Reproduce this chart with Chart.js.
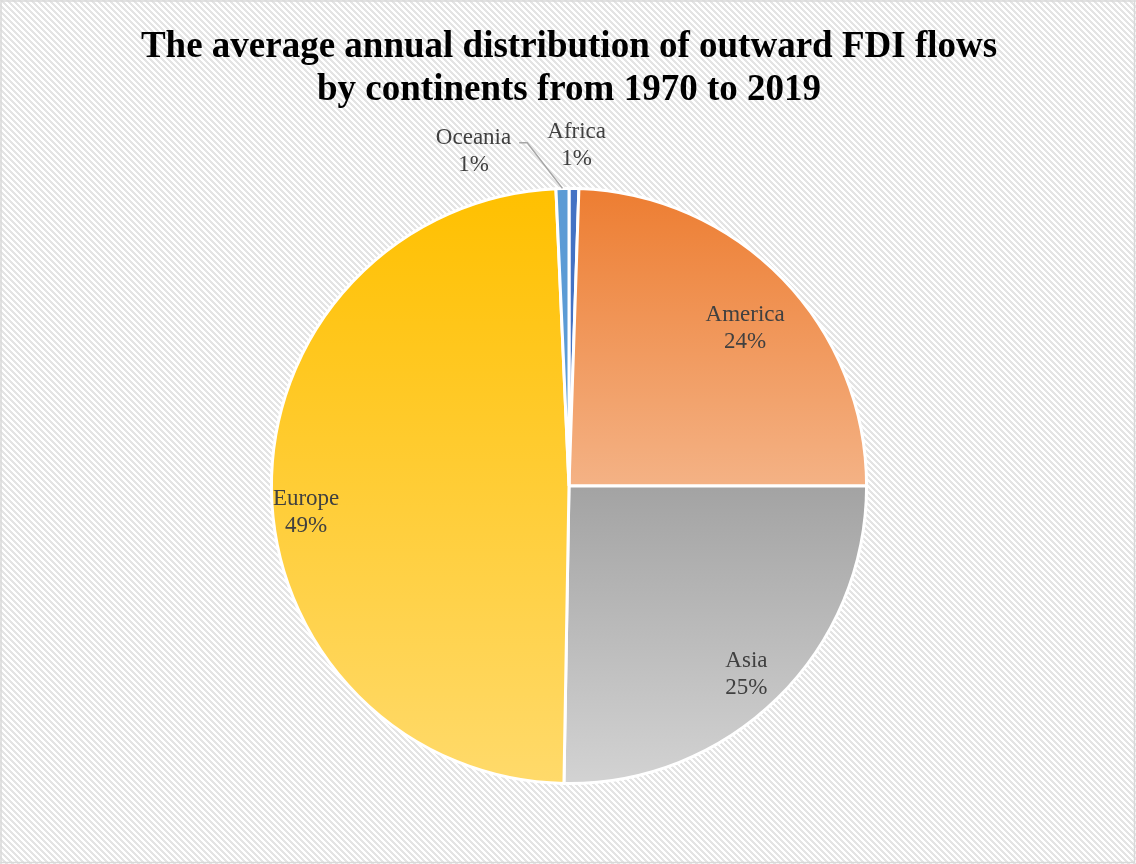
<!DOCTYPE html>
<html>
<head>
<meta charset="utf-8">
<script src="https://cdn.jsdelivr.net/npm/chart.js@4.4.0/dist/chart.umd.min.js"></script>
<style>
  html, body { margin: 0; padding: 0; background: #fff; }
  #wrap { width: 1136px; height: 864px; }
</style>
</head>
<body>
<div id="wrap"><canvas id="chart" width="1136" height="864"></canvas></div>
<script>
// Data
const continents = ['Africa', 'America', 'Asia', 'Europe', 'Oceania'];
const shares = [0.53, 24.47, 25.27, 49.03, 0.70];

// Colours (top / bottom of gradient)
const topColors = ['#4472C4', '#ED7D31', '#A3A3A3', '#FFC000', '#5B9BD5'];
const bottomColors = ['#4472C4', '#F4B285', '#D3D3D3', '#FFDA6B', '#5B9BD5'];

// Label placement tweaks (fraction of radius, pixel nudges)
const labelPlace = [
  { r: 1.14, dx: 2, dy: -1 },
  { r: 0.80, dx: 5, dy: 8 },
  { r: 0.86, dx: -2, dy: 6 },
  { r: 0.86, dx: -7, dy: 23 },
  { r: 1.14, dx: -88, dy: 5, leader: true }
];

// Slice gradient: computed from the pie geometry inside the chart area
function sliceFill(ctx) {
  const chart = ctx.chart;
  const area = chart.chartArea;
  const i = ctx.dataIndex;
  if (!area) return topColors[i];
  const cx = (area.left + area.right) / 2;
  const cy = (area.top + area.bottom) / 2;
  const R = Math.min(area.right - area.left, area.bottom - area.top) / 2;
  const total = shares.reduce((a, b) => a + b, 0);
  let cum = 0;
  for (let k = 0; k < i; k++) cum += shares[k];
  const a0 = -Math.PI / 2 + 2 * Math.PI * cum / total;
  const a1 = a0 + 2 * Math.PI * shares[i] / total;
  let minY = cy, maxY = cy;
  for (let s = 0; s <= 60; s++) {
    const a = a0 + (a1 - a0) * s / 60;
    const y = cy + R * Math.sin(a);
    minY = Math.min(minY, y);
    maxY = Math.max(maxY, y);
  }
  const g = chart.ctx.createLinearGradient(0, minY, 0, maxY);
  g.addColorStop(0, topColors[i]);
  g.addColorStop(1, bottomColors[i]);
  return g;
}

// Hatched background and frame
const backgroundPlugin = {
  id: 'hatchBackground',
  beforeDraw(chart) {
    const { ctx, width, height } = chart;
    const tile = document.createElement('canvas');
    tile.width = 6;
    tile.height = 6;
    const t = tile.getContext('2d');
    t.fillStyle = '#ffffff';
    t.fillRect(0, 0, 6, 6);
    t.fillStyle = '#e4e4e4';
    for (let y = 0; y < 6; y++) {
      for (let x = 0; x < 6; x++) {
        if (((x - y) % 6 + 6) % 6 < 3) t.fillRect(x, y, 1, 1);
      }
    }
    ctx.save();
    ctx.fillStyle = ctx.createPattern(tile, 'repeat');
    ctx.fillRect(0, 0, width, height);
    ctx.strokeStyle = '#d9d9d9';
    ctx.lineWidth = 1.5;
    ctx.strokeRect(1, 1, width - 2.5, height - 2.5);
    ctx.restore();
  }
};

// Category name + percentage labels
const sliceLabels = {
  id: 'sliceLabels',
  afterDatasetsDraw(chart) {
    const { ctx } = chart;
    const meta = chart.getDatasetMeta(0);
    const total = shares.reduce((a, b) => a + b, 0);
    ctx.save();
    ctx.font = '23px "Liberation Serif", "Times New Roman", serif';
    ctx.fillStyle = '#404040';
    ctx.textAlign = 'center';
    ctx.textBaseline = 'middle';
    meta.data.forEach((arc, i) => {
      const p = arc.getProps(['x', 'y', 'startAngle', 'endAngle', 'outerRadius'], true);
      const mid = (p.startAngle + p.endAngle) / 2;
      const place = labelPlace[i];
      const lx = p.x + Math.cos(mid) * p.outerRadius * place.r + place.dx;
      const ly = p.y + Math.sin(mid) * p.outerRadius * place.r + place.dy;
      const pct = Math.round(shares[i] / total * 100) + '%';
      ctx.fillText(continents[i], lx, ly - 13.5);
      ctx.fillText(pct, lx, ly + 13.5);
      if (place.leader) {
        const w = ctx.measureText(continents[i]).width;
        const ex = p.x + Math.cos(mid) * p.outerRadius;
        const ey = p.y + Math.sin(mid) * p.outerRadius;
        ctx.save();
        ctx.strokeStyle = '#a6a6a6';
        ctx.lineWidth = 1.5;
        ctx.beginPath();
        ctx.moveTo(lx + w / 2 + 8, ly - 9);
        ctx.lineTo(lx + w / 2 + 16, ly - 9);
        ctx.lineTo(ex, ey);
        ctx.stroke();
        ctx.restore();
      }
    });
    ctx.restore();
  }
};

new Chart(document.getElementById('chart'), {
  type: 'pie',
  data: {
    labels: continents,
    datasets: [{
      data: shares,
      backgroundColor: sliceFill,
      borderColor: '#ffffff',
      borderWidth: 3
    }]
  },
  options: {
    responsive: false,
    animation: false,
    layout: { padding: { top: 0, bottom: 79, left: 2, right: 0 } },
    plugins: {
      legend: { display: false },
      tooltip: { enabled: false },
      title: {
        display: true,
        text: ['The average annual distribution of outward FDI flows', 'by continents from 1970 to 2019'],
        color: '#000000',
        font: { family: '"Liberation Serif", "Times New Roman", serif', size: 37, weight: 'bold', lineHeight: 1.16 },
        padding: { top: 26, bottom: 75 }
      }
    }
  },
  plugins: [backgroundPlugin, sliceLabels]
});
</script>
</body>
</html>
